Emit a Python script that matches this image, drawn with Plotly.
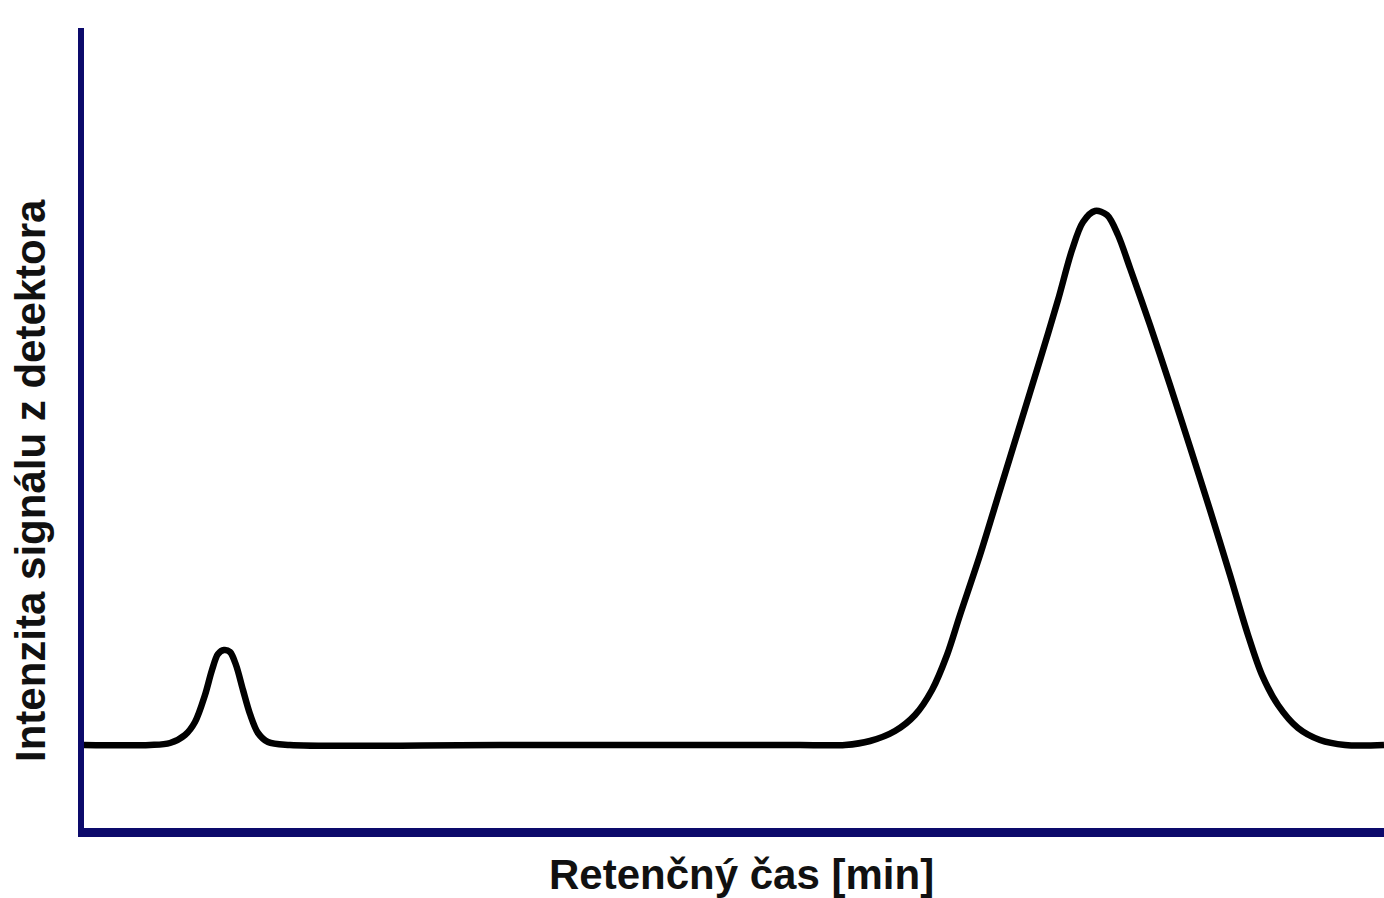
import plotly.graph_objects as go

# Chromatogram trace: retention time [min] and detector signal (baseline = 0)
retention_time = [
    0.00, 0.70, 0.90, 1.05, 1.15, 1.25, 1.32, 1.38, 1.44, 1.50, 1.56, 1.63,
    1.70, 1.78, 1.88, 2.10, 4.20, 7.20, 7.65, 7.90, 8.15, 8.35, 8.52, 8.67,
    8.80, 9.00, 9.20, 9.40, 9.60, 9.78, 9.92, 10.03, 10.15, 10.27, 10.38,
    10.50, 10.70, 10.90, 11.10, 11.30, 11.50, 11.68, 11.82, 11.98, 12.18,
    12.40, 12.65, 13.04,
]
signal = [
    0.0, 0.0, 0.2, 1.0, 2.3, 5.0, 7.5, 9.1, 9.5, 9.3, 8.0, 5.5,
    3.1, 1.2, 0.3, 0.0, 0.0, 0.0, 0.0, 0.4, 1.4, 3.0, 5.5, 9.0,
    13.0, 19.0, 25.5, 32.0, 38.5, 44.5, 49.5, 52.3, 53.4, 53.0, 51.0,
    47.7, 42.0, 36.0, 29.8, 23.5, 17.0, 11.0, 7.0, 4.0, 1.7,
    0.5, 0.0, 0.0,
]

x_title = "Retenčný čas [min]"
y_title = "Intenzita signálu z detektora"

AXIS_COLOR = "#0c0a6b"
TEXT_FONT = dict(family="Liberation Sans, Arial, sans-serif", size=42,
                 color="#111111", weight="bold")

fig = go.Figure()
fig.add_trace(go.Scatter(
    x=retention_time,
    y=signal,
    mode="lines",
    line=dict(color="#000000", width=6.5, shape="spline", smoothing=0.9),
    hoverinfo="skip",
    showlegend=False,
))

fig.update_layout(
    width=1384,
    height=898,
    margin=dict(l=84, r=0, t=28, b=70),
    paper_bgcolor="white",
    plot_bgcolor="white",
    xaxis=dict(range=[0.04, 13.04], showgrid=False, zeroline=False,
               showticklabels=False, ticks="", showline=True,
               linecolor=AXIS_COLOR, linewidth=9, fixedrange=True),
    yaxis=dict(range=[-8.3, 71.7], showgrid=False, zeroline=False,
               showticklabels=False, ticks="", showline=True,
               linecolor=AXIS_COLOR, linewidth=6, fixedrange=True),
    annotations=[
        dict(text=x_title, xref="paper", yref="paper", x=0.5054, y=-0.058,
             xanchor="center", yanchor="middle", showarrow=False,
             font=TEXT_FONT),
        dict(text=y_title, xref="paper", yref="paper", x=-0.0408, y=0.435,
             xanchor="center", yanchor="middle", showarrow=False,
             textangle=-90, font=TEXT_FONT),
    ],
)

fig.write_html("out.html")
